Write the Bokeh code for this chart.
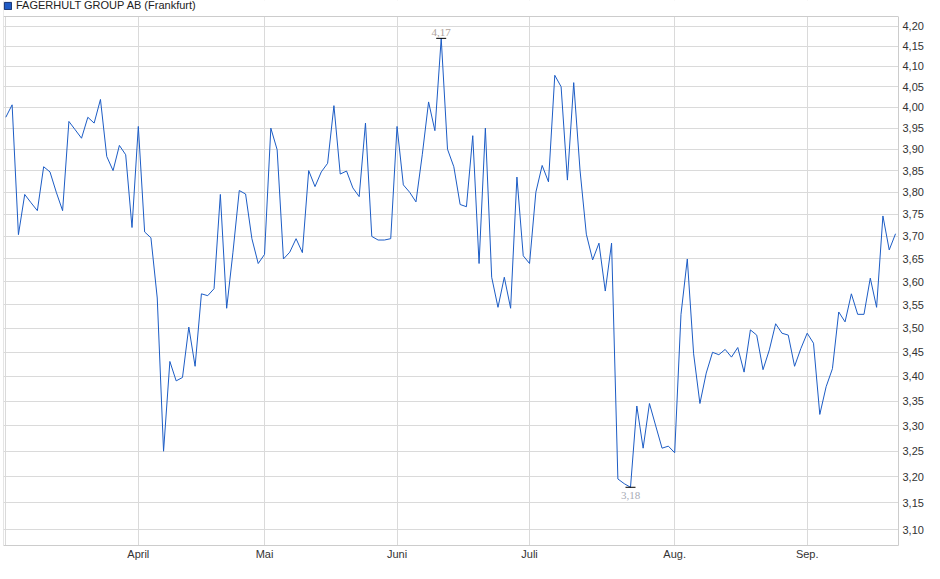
import numpy as np
from bokeh.plotting import figure
from bokeh.models import (Range1d, FixedTicker, CustomJSTickFormatter, Legend,
                          LegendItem, ColumnDataSource, BoxAnnotation, Span)
from bokeh.embed import file_html
from bokeh.resources import INLINE

# ---------------- data ----------------
series_name = "FAGERHULT GROUP AB (Frankfurt)"

# daily closing prices (trading days, early March .. mid September)
prices = [
    3.976, 4.006, 3.704, 3.795, 3.776, 3.758, 3.859, 3.847, 3.800, 3.758,
    3.966, 3.946, 3.926, 3.976, 3.962, 4.019, 3.883, 3.850, 3.909, 3.887,
    3.720, 3.954, 3.710, 3.697, 3.565, 3.250, 3.431, 3.391, 3.398, 3.503,
    3.421, 3.574, 3.570, 3.585, 3.795, 3.543, 3.665, 3.804, 3.796, 3.695,
    3.640, 3.660, 3.950, 3.899, 3.650, 3.665, 3.695, 3.664, 3.850, 3.813,
    3.847, 3.867, 4.004, 3.842, 3.849, 3.810, 3.790, 3.962, 3.700, 3.692,
    3.692, 3.695, 3.954, 3.817, 3.800, 3.778, 3.887, 4.013, 3.944, 4.170,
    3.900, 3.859, 3.772, 3.767, 3.932, 3.640, 3.950, 3.610, 3.545, 3.610,
    3.543, 3.835, 3.657, 3.640, 3.800, 3.862, 3.824, 4.078, 4.050, 3.828,
    4.060, 3.851, 3.705, 3.648, 3.685, 3.580, 3.685, 3.196, 3.187, 3.180,
    3.340, 3.256, 3.345, 3.300, 3.256, 3.260, 3.247, 3.530, 3.650, 3.447,
    3.345, 3.407, 3.450, 3.445, 3.456, 3.440, 3.460, 3.409, 3.497, 3.486,
    3.414, 3.455, 3.510, 3.490, 3.486, 3.421, 3.458, 3.490, 3.469, 3.323,
    3.379, 3.416, 3.535, 3.514, 3.574, 3.530, 3.530, 3.608, 3.545, 3.746,
    3.670, 3.706,
]

# trading-day index at which each month starts, and its label
month_start_index = [21, 41, 62, 83, 106, 127]
month_labels = ["April", "Mai", "Juni", "Juli", "Aug.", "Sep."]

y_ticks = [3.10, 3.15, 3.20, 3.25, 3.30, 3.35, 3.40, 3.45, 3.50, 3.55, 3.60,
           3.65, 3.70, 3.75, 3.80, 3.85, 3.90, 3.95, 4.00, 4.05, 4.10, 4.15, 4.20]

# ---------------- styling / layout ----------------
LINE_COLOR = "#1c5cc5"
GRID_COLOR = "#dadada"
BORDER_COLOR = "#cccccc"
FONT = "Liberation Sans"
FRAME_W, FRAME_H = 895, 545
Y_LOW, Y_HIGH = 3.0702, 4.2664      # visible log range of the frame
PLOT_TOP = 4.2254                    # value where the drawn box starts (below the legend strip)
X_PAD_LEFT, X_PAD_RIGHT = 0.365, 0.47

days = list(range(len(prices)))
src = ColumnDataSource(dict(day=days, price=prices))

p = figure(frame_width=FRAME_W, frame_height=FRAME_H,
           output_backend="svg", toolbar_location=None,
           y_axis_type="log", y_axis_location="right",
           x_range=Range1d(-X_PAD_LEFT, len(prices) - 1 + X_PAD_RIGHT),
           y_range=Range1d(Y_LOW, Y_HIGH),
           min_border_left=3, min_border_right=30, min_border_top=0,
           min_border_bottom=18)

p.background_fill_color = "white"
p.border_fill_color = "white"
p.outline_line_color = None

# grid
p.xgrid.ticker = FixedTicker(ticks=[0] + month_start_index)
p.ygrid.ticker = FixedTicker(ticks=y_ticks, minor_ticks=[])
p.grid.grid_line_color = GRID_COLOR
p.grid.grid_line_width = 1
p.ygrid.minor_grid_line_color = None

# left border of the chart box
p.add_layout(Span(location=-X_PAD_LEFT, dimension="height",
                  line_color=BORDER_COLOR, line_width=1))

# max / min
imax = int(np.argmax(prices))
imin = int(np.argmin(prices))
vmax = prices[imax]
vmin = prices[imin]

# legend proxy: a zero-size quad hidden under the line at the maximum
sq = p.quad(left=[imax], right=[imax], top=[vmax], bottom=[vmax],
            fill_color="#1f5bc6", line_color="#15316f", level="underlay")

p.line("day", "price", source=src, line_color=LINE_COLOR, line_width=1)

p.scatter([imax, imin], [vmax, vmin], marker="dash", size=10,
          line_color="black", line_width=1)
p.text([imax], [vmax], text=[f"{vmax:.2f}".replace(".", ",")],
       text_align="center", text_baseline="bottom", y_offset=-2,
       text_font_size="11px", text_color="#b0a49c", text_font=FONT)
p.text([imin], [vmin], text=[f"{vmin:.2f}".replace(".", ",")],
       text_align="center", text_baseline="top", y_offset=5,
       text_font_size="11px", text_color="#a8abb6", text_font=FONT)

# white strip above the chart box (holds the legend), and the box's top border
p.add_layout(BoxAnnotation(bottom=PLOT_TOP, fill_color="white", fill_alpha=1.0,
                           line_color=None))
p.add_layout(Span(location=PLOT_TOP, dimension="width",
                  line_color=BORDER_COLOR, line_width=1))

# axes
p.xaxis.ticker = FixedTicker(ticks=month_start_index)
p.xaxis.major_label_overrides = {i: lab for i, lab in zip(month_start_index, month_labels)}
p.yaxis.ticker = FixedTicker(ticks=y_ticks, minor_ticks=[])
p.yaxis.formatter = CustomJSTickFormatter(code="return tick.toFixed(2).replace('.', ',');")
p.yaxis.bounds = (Y_LOW, PLOT_TOP)

for ax in (p.xaxis[0], p.yaxis[0]):
    ax.axis_line_color = BORDER_COLOR
    ax.major_tick_line_color = None
    ax.minor_tick_line_color = None
    ax.major_tick_out = 0
    ax.major_tick_in = 0
    ax.major_label_text_font_size = "11px"
    ax.major_label_text_color = "#333333"
    ax.major_label_text_font = FONT
p.xaxis.major_label_standoff = 2
p.yaxis.major_label_standoff = 4

# legend square + label in the top strip
leg = Legend(items=[LegendItem(label=series_name, renderers=[sq])],
             location=(0, FRAME_H - 11), orientation="horizontal",
             padding=0, margin=0, spacing=0,
             border_line_color=None, background_fill_alpha=0,
             glyph_width=9, glyph_height=9, label_height=9,
             label_standoff=4, label_text_font_size="11px",
             label_text_font=FONT, label_text_color="#222222")
p.add_layout(leg, "center")

open("out.html", "w").write(file_html(p, INLINE))
